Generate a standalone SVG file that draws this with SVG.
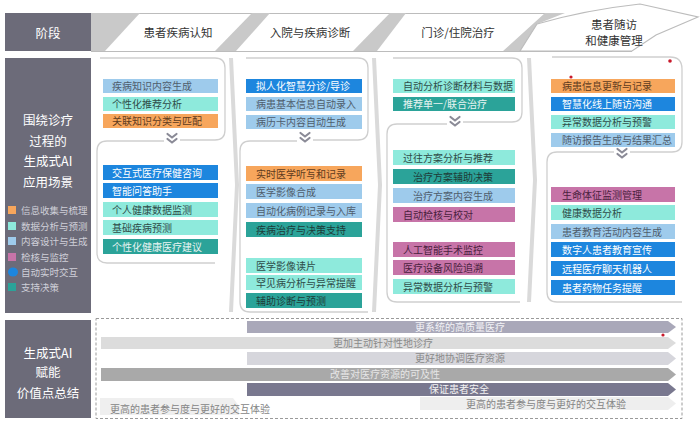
<svg xmlns="http://www.w3.org/2000/svg" width="700" height="424" viewBox="0 0 700 424">
<defs>
<style>
text{font-family:"Noto Sans CJK SC","Noto Sans",sans-serif;}
.side{fill:#6c6b79;}
.st{fill:#fff;font-size:12.5px;text-anchor:middle;}
.lg{fill:#cfcfd8;font-size:9.5px;}
.hd{fill:#333;font-size:11.5px;text-anchor:middle;}
.wedge{fill:#c9c9c9;}
.hline{stroke:#bcbcbc;stroke-width:1.2;fill:none;}
.pan{stroke:#cfcfcf;stroke-width:1.3;fill:none;}
.div{fill:#dadada;}
.or{fill:#f7a65c;}
.mi{fill:#8eeadc;}
.lb{fill:#9ecbec;}
.mg{fill:#c774a8;}
.bl{fill:#1d86de;}
.tl{fill:#2ba399;}
.t{font-size:10px;}
.tor{fill:#5e3b1e;}
.tmi{fill:#2f4c49;}
.tlb{fill:#4f5d6c;}
.tmg{fill:#4a1f3e;}
.tbl{fill:#ffffff;}
.ttl{fill:#1e3b38;}
.ttw{fill:#e8f4f2;}
.chev{stroke:#8b8b97;stroke-width:2.2;fill:none;stroke-linecap:round;stroke-linejoin:round;}
.at{font-size:10px;}
</style>
</defs>
<rect width="700" height="424" fill="#fff"/>

<!-- left side labels -->
<g id="side-stage">
<rect class="side" x="5" y="13" width="86" height="38"/>
<text class="st" x="48" y="37.5">阶段</text>
</g>
<g id="side-scenes">
<rect class="side" x="5" y="58" width="86" height="255"/>
<text class="st" x="48" y="125">围绕诊疗</text>
<text class="st" x="48" y="146">过程的</text>
<text class="st" x="48" y="166">生成式AI</text>
<text class="st" x="48" y="187">应用场景</text>
</g>
<g id="legend">
<rect class="or" x="8" y="206" width="8" height="8"/><text class="lg" x="21" y="213.5">信息收集与梳理</text>
<rect class="mi" x="8" y="222" width="8" height="8"/><text class="lg" x="21" y="229.5">数据分析与预测</text>
<rect class="lb" x="8" y="237" width="8" height="8"/><text class="lg" x="21" y="244.5">内容设计与生成</text>
<rect class="mg" x="8" y="253" width="8" height="8"/><text class="lg" x="21" y="260.5">检核与监控</text>
<ellipse class="bl" cx="13" cy="272" rx="5" ry="4.5"/><text class="lg" x="21" y="275.5">自动实时交互</text>
<rect class="tl" x="8" y="283" width="8" height="8"/><text class="lg" x="21" y="290.5">支持决策</text>
</g>
<g id="side-value">
<rect class="side" x="5" y="320" width="86" height="98"/>
<text class="st" x="48" y="358">生成式AI</text>
<text class="st" x="48" y="377">赋能</text>
<text class="st" x="48" y="398">价值点总结</text>
</g>

<!-- header stages -->
<g id="header">
<rect x="91" y="13" width="470" height="38" fill="#fff"/>
<path class="hline" d="M91,13.5 H560 M91,51.5 H632"/>
<polygon class="wedge" points="91,13 140,13 105,51 91,51"/>
<polygon class="wedge" points="252,13 270,13 236,51 215,51"/>
<polygon class="wedge" points="390,13 406,13 377,51 353,51"/>
<polygon class="wedge" points="545,13 565,13 537,24 520,51 503,51"/>
</g>
<g id="stage-1"><text class="hd" x="178" y="37">患者疾病认知</text></g>
<g id="stage-2"><text class="hd" x="310" y="37">入院与疾病诊断</text></g>
<g id="stage-3"><text class="hd" x="458" y="37">门诊/住院治疗</text></g>
<g id="stage-4">
<path d="M520,51 L537,24 Q585,10 640,4 L698,17 L656,35 L632,51 Z" fill="#fff" stroke="#bcbcbc" stroke-width="1.2"/>
<text class="hd" x="614" y="29">患者随访</text>
<text class="hd" x="614" y="45">和健康管理</text>
</g>

<!-- column dividers -->
<g id="dividers">
<polygon class="div" points="229,58 233,58 239,185 233,312 229,312 235,185"/>
<polygon class="div" points="372,58 376,58 382,185 376,312 372,312 378,185"/>
<polygon class="div" points="527,58 531,58 537,180 531,302 527,302 533,180"/>
</g>

<!-- panels -->
<g id="panels">
<path class="pan" d="M100,58 H215 Q225,58 225,68 V130 Q225,140 215,140 H180"/>
<path class="pan" d="M164,141 H107 Q97,141 97,151 V253 Q97,263 107,263 H215"/>
<path class="pan" d="M246,58 H358 Q368,58 368,68 V130 Q368,140 358,140 H313"/>
<path class="pan" d="M297,141 H250 Q240,141 240,151 V302 Q240,312 250,312 H368"/>
<path class="pan" d="M393,58 H512 Q522,58 522,68 V112 Q522,122 512,122 H463"/>
<path class="pan" d="M447,124 H397 Q387,124 387,134 V292 Q387,302 397,302 H520"/>
<path class="pan" d="M552,57 H670 Q682,57 682,69 V142 Q682,152 672,152 H630"/>
<path class="pan" d="M614,152 H557 Q547,152 547,162 V292 Q547,302 557,302 H682"/>
</g>

<!-- connectors (flow chevrons) -->
<g id="connectors">
<path class="chev" d="M167.5,134 L172,137.5 L176.5,134 M167.5,139 L172,142.5 L176.5,139"/>
<path class="chev" d="M300.5,133 L305,136.5 L309.5,133 M300.5,138 L305,141.5 L309.5,138"/>
<path class="chev" d="M450.5,117 L455,120.5 L459.5,117 M450.5,122 L455,125.5 L459.5,122"/>
<path class="chev" d="M617.5,149 L622,152.5 L626.5,149 M617.5,154 L622,157.5 L626.5,154"/>
</g>

<!-- column 1 -->
<g id="c1-1"><rect class="lb" x="103" y="79" width="115" height="14"/><text class="t tlb" x="112" y="90">疾病知识内容生成</text></g>
<g id="c1-2"><rect class="mi" x="103" y="97" width="115" height="14"/><text class="t tmi" x="112" y="108">个性化推荐分析</text></g>
<g id="c1-3"><rect class="or" x="103" y="114" width="115" height="14"/><text class="t tor" x="112" y="125">关联知识分类与匹配</text></g>
<g id="c1-4"><rect class="bl" x="103" y="165" width="115" height="15"/><text class="t tbl" x="112" y="176.5">交互式医疗保健咨询</text></g>
<g id="c1-5"><rect class="bl" x="103" y="183" width="115" height="15"/><text class="t tbl" x="112" y="194.5">智能问答助手</text></g>
<g id="c1-6"><rect class="mi" x="103" y="202" width="115" height="15"/><text class="t tmi" x="112" y="213.5">个人健康数据监测</text></g>
<g id="c1-7"><rect class="mi" x="103" y="220" width="115" height="15"/><text class="t tmi" x="112" y="231.5">基础疾病预测</text></g>
<g id="c1-8"><rect class="tl" x="103" y="239" width="115" height="15"/><text class="t ttw" x="112" y="250.5">个性化健康医疗建议</text></g>

<!-- column 2 -->
<g id="c2-1"><rect class="bl" x="246" y="79" width="116" height="14"/><text class="t tbl" x="256" y="90">拟人化智慧分诊/导诊</text></g>
<g id="c2-2"><rect class="lb" x="246" y="97" width="116" height="14"/><text class="t tlb" x="256" y="108">病患基本信息自动录入</text></g>
<g id="c2-3"><rect class="lb" x="246" y="115" width="116" height="14"/><text class="t tlb" x="256" y="126">病历卡内容自动生成</text></g>
<g id="c2-4"><rect class="or" x="246" y="166" width="116" height="15"/><text class="t tor" x="256" y="177.5">实时医学听写和记录</text></g>
<g id="c2-5"><rect class="lb" x="246" y="184" width="116" height="15"/><text class="t tlb" x="256" y="195.5">医学影像合成</text></g>
<g id="c2-6"><rect class="lb" x="246" y="203" width="116" height="15"/><text class="t tlb" x="256" y="214.5">自动化病例记录与入库</text></g>
<g id="c2-7"><rect class="tl" x="246" y="222" width="116" height="15"/><text class="t ttl" x="256" y="233.5">疾病治疗与决策支持</text></g>
<g id="c2-8"><rect class="mi" x="246" y="258" width="116" height="15"/><text class="t tmi" x="256" y="269.5">医学影像读片</text></g>
<g id="c2-9"><rect class="mi" x="246" y="275" width="116" height="15"/><text class="t tmi" x="256" y="286.5">罕见病分析与异常提醒</text></g>
<g id="c2-10"><rect class="tl" x="246" y="293" width="116" height="15"/><text class="t ttl" x="256" y="304.5">辅助诊断与预测</text></g>

<!-- column 3 -->
<g id="c3-1"><rect class="mi" x="393" y="79" width="122" height="14"/><text class="t tmi" x="403" y="90">自动分析诊断材料与数据</text></g>
<g id="c3-2"><rect class="tl" x="393" y="97" width="122" height="14"/><text class="t ttw" x="403" y="108">推荐单一/联合治疗</text></g>
<g id="c3-3"><rect class="mi" x="393" y="150" width="122" height="15"/><text class="t tmi" x="403" y="161.5">过往方案分析与推荐</text></g>
<g id="c3-4"><rect class="tl" x="393" y="169" width="122" height="15"/><text class="t ttl" x="413" y="180.5">治疗方案辅助决策</text></g>
<g id="c3-5"><rect class="lb" x="393" y="188" width="122" height="15"/><text class="t tlb" x="413" y="199.5">治疗方案内容生成</text></g>
<g id="c3-6"><rect class="mg" x="393" y="207" width="122" height="15"/><text class="t tmg" x="403" y="218.5">自动检核与校对</text></g>
<g id="c3-7"><rect class="mg" x="393" y="242" width="122" height="15"/><text class="t tmg" x="403" y="253.5">人工智能手术监控</text></g>
<g id="c3-8"><rect class="mg" x="393" y="260" width="122" height="15"/><text class="t tmg" x="403" y="271.5">医疗设备风险追溯</text></g>
<g id="c3-9"><rect class="mi" x="393" y="279" width="122" height="15"/><text class="t tmi" x="403" y="290.5">异常数据分析与预警</text></g>

<!-- column 4 -->
<g id="c4-1"><rect class="or" x="551" y="79" width="124" height="14"/><text class="t tor" x="562" y="90">病患信息更新与记录</text></g>
<g id="c4-2"><rect class="bl" x="551" y="97" width="124" height="14"/><text class="t tbl" x="562" y="108">智慧化线上随访沟通</text></g>
<g id="c4-3"><rect class="mi" x="551" y="115" width="124" height="14"/><text class="t tmi" x="562" y="126">异常数据分析与预警</text></g>
<g id="c4-4"><rect class="lb" x="551" y="133" width="124" height="14"/><text class="t tlb" x="562" y="144">随访报告生成与结果汇总</text></g>
<g id="c4-5"><rect class="mg" x="551" y="187" width="124" height="15"/><text class="t tmg" x="562" y="198.5">生命体征监测管理</text></g>
<g id="c4-6"><rect class="mi" x="551" y="205" width="124" height="15"/><text class="t tmi" x="562" y="216.5">健康数据分析</text></g>
<g id="c4-7"><rect class="lb" x="551" y="224" width="124" height="15"/><text class="t tlb" x="562" y="235.5">患者教育活动内容生成</text></g>
<g id="c4-8"><rect class="bl" x="551" y="242" width="124" height="15"/><text class="t tbl" x="562" y="253.5">数字人患者教育宣传</text></g>
<g id="c4-9"><rect class="bl" x="551" y="261" width="124" height="15"/><text class="t tbl" x="562" y="272.5">远程医疗聊天机器人</text></g>
<g id="c4-10"><rect class="bl" x="551" y="280" width="124" height="15"/><text class="t tbl" x="562" y="291.5">患者药物任务提醒</text></g>

<!-- value summary -->
<g id="value-frame"><rect x="96" y="318.5" width="586" height="100" fill="none" stroke="#9a9a9a" stroke-width="1" stroke-dasharray="3,2"/></g>
<g id="v1"><polygon points="247,321 668,321 676,327 668,333 247,333" fill="#a9a8b9"/><text class="at" x="415" y="330.5" fill="#f2f2f6">更系统的高质量医疗</text></g>
<g id="v2"><polygon points="101,337 668,337 676,343 668,349 101,349" fill="#dcdcdc"/><text class="at" x="333" y="346.5" fill="#8a8a8a">更加主动针对性地诊疗</text></g>
<g id="v3"><polygon points="247,352 668,352 676,358.5 668,365 247,365" fill="#d6d6dc"/><text class="at" x="415" y="362" fill="#8a8a8a">更好地协调医疗资源</text></g>
<g id="v4"><polygon points="101,368 668,368 676,374.5 668,381 101,381" fill="#a9a9a9"/><text class="at" x="330" y="378" fill="#e6e6e6">改善对医疗资源的可及性</text></g>
<g id="v5"><polygon points="247,383 668,383 676,389.5 668,396 247,396" fill="#79788f"/><text class="at" x="429" y="393" fill="#f2f2f2">保证患者安全</text></g>
<g id="v6"><polygon points="420,397 668,397 676,403.5 668,410 420,410" fill="#eeeeee"/><text class="at" x="466" y="407.5" fill="#858585">更高的患者参与度与更好的交互体验</text></g>
<g id="v7"><polygon points="100,398 233,398 239,406 239,415 100,415" fill="#efefef"/><text class="at" x="110" y="412.5" fill="#858585">更高的患者参与度与更好的交互体验</text></g>

<!-- marks -->
<g id="dots">
<circle cx="571" cy="77" r="1.6" fill="#c8192b"/>
<circle cx="670" cy="61" r="1.8" fill="#c8192b"/>
<circle cx="663" cy="335" r="1.6" fill="#c8192b"/>
</g>
</svg>
